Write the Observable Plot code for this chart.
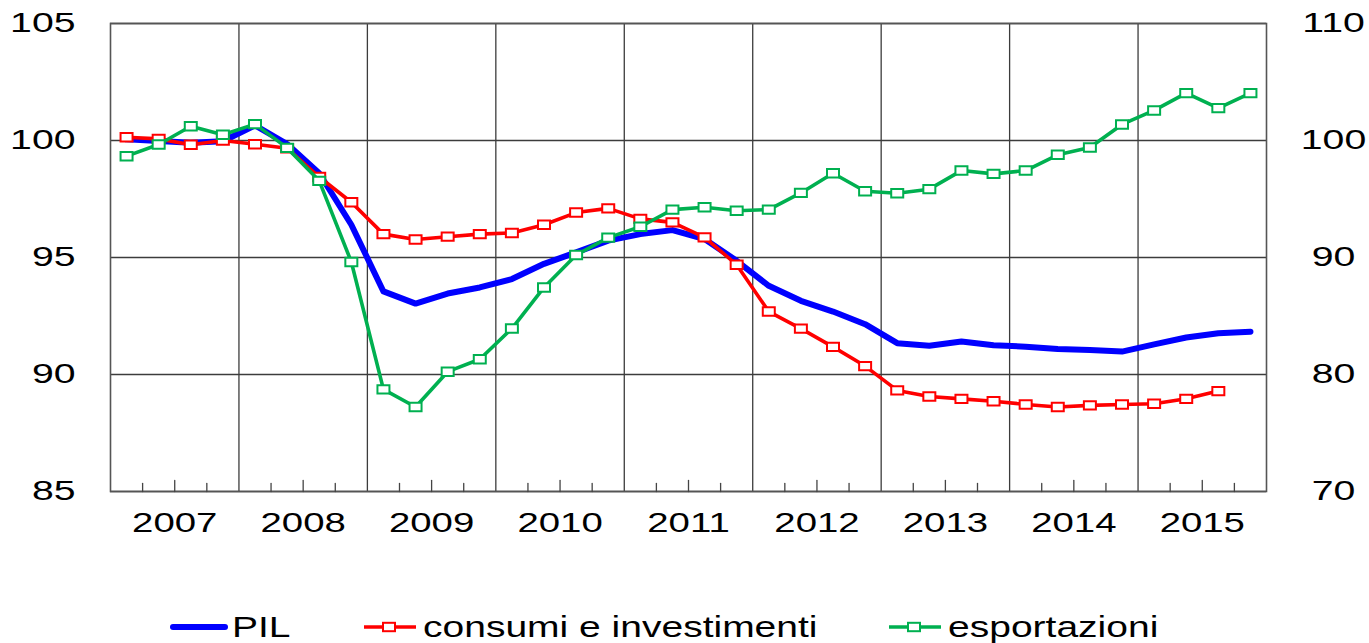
<!DOCTYPE html>
<html>
<head>
<meta charset="utf-8">
<script src="https://cdn.jsdelivr.net/npm/d3@7"></script>
<script src="https://cdn.jsdelivr.net/npm/@observablehq/plot@0.6"></script>
<style>
  html, body { margin: 0; padding: 0; background: #fff; }
  body { position: relative; width: 1369px; height: 643px; overflow: hidden; font-family: "Liberation Sans", Arial, sans-serif; }
  #chart { position: absolute; left: 0; top: 0; }
  .leg { position: absolute; top: 610px; height: 34px; display: flex; align-items: center; white-space: nowrap; }
  .leg svg { display: block; }
  .leg span { display: inline-block; font-size: 30px; color: #000; transform: scaleX(1.3); transform-origin: left center; margin-left: 4px; }
</style>
</head>
<body>
<div id="chart"></div>
<div id="legend"></div>
<script>
// ---- data (quarterly, 2007 T1 - 2015 T4) ----
const years = [2007, 2008, 2009, 2010, 2011, 2012, 2013, 2014, 2015];
const quarters = ["T1", "T2", "T3", "T4"];

// PIL (left axis)
const pil = [
  100.05, 99.98, 99.9, 99.97,
  100.65, 99.85, 98.6, 96.4,
  93.55, 93.03, 93.46, 93.72,
  94.08, 94.73, 95.22, 95.72,
  96.0, 96.17, 95.79, 94.86,
  93.79, 93.15, 92.69, 92.15,
  91.34, 91.23, 91.41, 91.25,
  91.19, 91.09, 91.05, 90.98,
  91.29, 91.58, 91.76, 91.83
];
// consumi e investimenti (left axis), ends 2015 T3
const consumi = [
  100.14, 100.07, 99.82, 100.0,
  99.84, 99.67, 98.44, 97.36,
  96.0, 95.77, 95.89, 96.0,
  96.05, 96.4, 96.92, 97.1,
  96.65, 96.5, 95.86, 94.69,
  92.69, 91.96, 91.18, 90.36,
  89.32, 89.06, 88.96, 88.86,
  88.72, 88.61, 88.68, 88.72,
  88.75, 88.96, 89.29
];
// esportazioni (right axis)
const esportazioni = [
  98.66, 99.66, 101.22, 100.49,
  101.4, 99.37, 96.55, 89.62,
  78.73, 77.22, 80.24, 81.3,
  83.93, 87.44, 90.21, 91.7,
  92.63, 94.09, 94.29, 94.0,
  94.09, 95.52, 97.2, 95.66,
  95.49, 95.84, 97.43, 97.15,
  97.43, 98.78, 99.4, 101.37,
  102.57, 104.05, 102.77, 104.05
];

const leftTicks = [85, 90, 95, 100, 105];
const yearBounds = years.slice(1);             // 2008 ... 2015
const yearMids = years.map(y => y + 0.5);
const quarterMarks = years.flatMap(y => [y + 0.25, y + 0.75]);
const halfMarks = years.map(y => y + 0.5);

// ---- table ----
const t = (i) => 2007 + (i + 0.5) / 4;
const pilData = pil.map((v, i) => ({t: t(i), v}));
const conData = consumi.map((v, i) => ({t: t(i), v}));
const espData = esportazioni.map((v, i) => ({t: t(i), v}));
// right axis (70-110) mapped on left axis (85-105)
const toLeft = r => 100 + (r - 100) / 2;
const toRight = l => 100 + (l - 100) * 2;

const square = {draw(ctx) { ctx.rect(-6, -4.2, 12, 8.4); }};
const tickLine = {draw(ctx, l) { ctx.moveTo(0, 0); ctx.lineTo(0, -l); }};

const BLUE = "#0000ff", RED = "#ff0000", GREEN = "#00b050", GRID = "#3c3c3c";

const chart = Plot.plot({
  width: 1369,
  height: 560,
  marginLeft: 110,
  marginRight: 103,
  marginTop: 23,
  marginBottom: 69,
  style: {fontFamily: '"Liberation Sans", Arial, sans-serif', fontSize: "28px", color: "#000", background: "#fff"},
  x: {domain: [2007, 2016], axis: null},
  y: {domain: [85, 105], axis: null},
  marks: [
    Plot.ruleY(leftTicks, {stroke: GRID, strokeWidth: 1.3}),
    Plot.ruleX(yearBounds, {stroke: GRID, strokeWidth: 1.3}),
    Plot.frame({stroke: "#555", strokeWidth: 1.6}),
    Plot.vectorX(quarterMarks, {x: d => d, frameAnchor: "bottom", anchor: "start", length: 8, shape: tickLine, stroke: "#444", strokeWidth: 1.3}),
    Plot.vectorX(halfMarks, {x: d => d, frameAnchor: "bottom", anchor: "start", length: 11, shape: tickLine, stroke: "#444", strokeWidth: 1.3}),
    Plot.axisY({anchor: "left", label: null, ticks: leftTicks, tickSize: 0, tickPadding: 35, tickFormat: d => String(d)}),
    Plot.axisY({anchor: "right", label: null, ticks: leftTicks, tickSize: 0, tickPadding: 67, textAnchor: "middle", tickFormat: d => String(toRight(d))}),
    Plot.axisX({anchor: "bottom", label: null, ticks: yearMids, tickSize: 0, tickPadding: 21, tickFormat: d => String(Math.floor(d))}),
    Plot.line(pilData, {x: "t", y: "v", stroke: BLUE, strokeWidth: 6, strokeLinecap: "round", strokeLinejoin: "round"}),
    Plot.line(conData, {x: "t", y: "v", stroke: RED, strokeWidth: 3.6, strokeLinejoin: "round"}),
    Plot.dot(conData, {x: "t", y: "v", symbol: square, fill: "#fff", stroke: RED, strokeWidth: 2}),
    Plot.line(espData, {x: "t", y: d => toLeft(d.v), stroke: GREEN, strokeWidth: 3.6, strokeLinejoin: "round"}),
    Plot.dot(espData, {x: "t", y: d => toLeft(d.v), symbol: square, fill: "#fff", stroke: GREEN, strokeWidth: 2})
  ]
});
document.getElementById("chart").append(chart);

// horizontally stretched lettering, as in the reference
function stretch(sel, k) {
  chart.querySelectorAll(sel).forEach(el => {
    const L = el.getComputedTextLength();
    el.setAttribute("textLength", (L * k).toFixed(1));
    el.setAttribute("lengthAdjust", "spacingAndGlyphs");
  });
}
stretch('g[aria-label="y-axis tick label"] text', 1.4);
stretch('g[aria-label="x-axis tick label"] text', 1.37);

// ---- legend ----
const legendItems = [
  {label: "PIL", color: BLUE, width: 6, marker: false, left: 170},
  {label: "consumi e investimenti", color: RED, width: 3.6, marker: true, left: 361},
  {label: "esportazioni", color: GREEN, width: 3.6, marker: true, left: 886}
];
const legend = d3.select("#legend");
for (const it of legendItems) {
  const div = legend.append("div").attr("class", "leg").style("left", it.left + "px");
  const s = div.append("svg").attr("width", 58).attr("height", 20);
  s.append("line").attr("x1", 3).attr("x2", 55).attr("y1", 10).attr("y2", 10)
    .attr("stroke", it.color).attr("stroke-width", it.width).attr("stroke-linecap", it.marker ? "butt" : "round");
  if (it.marker) s.append("rect").attr("x", 22).attr("y", 5.8).attr("width", 12).attr("height", 8.4)
    .attr("fill", "#fff").attr("stroke", it.color).attr("stroke-width", 2);
  div.append("span").text(it.label);
}
</script>
</body>
</html>
